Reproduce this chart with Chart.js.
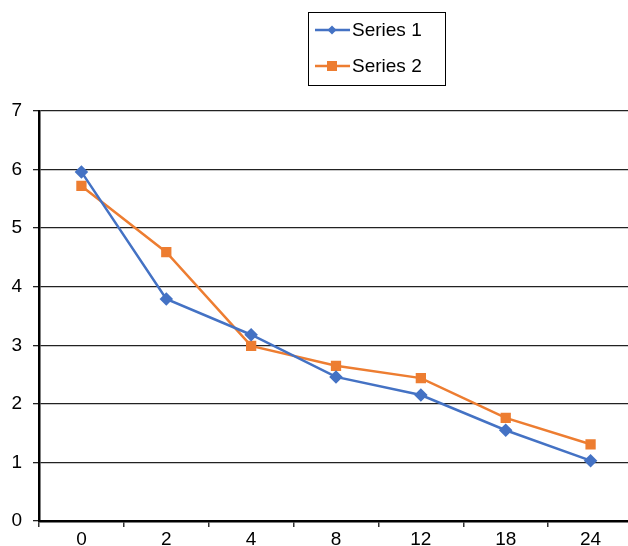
<!DOCTYPE html>
<html><head><meta charset="utf-8">
<script src="https://cdn.jsdelivr.net/npm/chart.js@4"></script>
<style>html,body{margin:0;padding:0;background:#fff;overflow:hidden;}#wrap{width:628px;height:546px;overflow:hidden;}</style>
</head><body><div id="wrap"><canvas id="c" width="633" height="546"></canvas></div>
<script>
const categories = ["0","2","4","8","12","18","24"];
const series1 = [5.96, 3.79, 3.18, 2.46, 2.15, 1.55, 1.03];
const series2 = [5.72, 4.59, 2.99, 2.65, 2.44, 1.76, 1.31];
const seriesNames = ["Series 1", "Series 2"];
const yTicks = [0,1,2,3,4,5,6,7];
const BLUE = "#4472C4", ORANGE = "#ED7D31";
const FONT = "Liberation Sans, Arial, sans-serif";

const legendPlugin = {
  id: "boxLegend",
  afterDraw(chart) {
    const ctx = chart.ctx;
    ctx.save();
    ctx.strokeStyle = "#000"; ctx.lineWidth = 1;
    ctx.strokeRect(308.5, 12.5, 137, 73);
    chart.data.datasets.forEach((ds, i) => {
      const y = 30 + i * 36;
      ctx.strokeStyle = ds.borderColor; ctx.lineWidth = 2.5;
      ctx.beginPath(); ctx.moveTo(315, y); ctx.lineTo(350, y); ctx.stroke();
      ctx.fillStyle = ds.borderColor;
      if (ds.pointStyle === "rect") { ctx.fillRect(327, y - 5, 10, 10); }
      else { ctx.beginPath(); ctx.moveTo(332, y-4.5); ctx.lineTo(336.5, y); ctx.lineTo(332, y+4.5); ctx.lineTo(327.5, y); ctx.closePath(); ctx.fill(); }
      ctx.fillStyle = "#000"; ctx.font = "19px " + FONT; ctx.textBaseline = "middle"; ctx.textAlign = "left";
      ctx.fillText(ds.label, 352, y + 1);
    });
    ctx.restore();
  }
};

new Chart(document.getElementById("c"), {
  type: "line",
  data: {
    labels: categories,
    datasets: [
      { label: seriesNames[0], data: series1, borderColor: BLUE, backgroundColor: BLUE, borderWidth: 2.5,
        pointStyle: "rectRot", pointRadius: 5, pointHoverRadius: 5, tension: 0, clip: false },
      { label: seriesNames[1], data: series2, borderColor: ORANGE, backgroundColor: ORANGE, borderWidth: 2.5,
        pointStyle: "rect", pointRadius: 5.5, pointHoverRadius: 5.5, tension: 0, clip: false }
    ]
  },
  options: {
    responsive: false, animation: false,
    layout: { autoPadding: false, padding: { top: 111, right: 0, left: 0, bottom: 0 } },
    plugins: { legend: { display: false }, tooltip: { enabled: false } },
    scales: {
      x: {
        type: "category", offset: true,
        grid: { offset: true, drawOnChartArea: false, drawTicks: true, tickLength: 6, color: "#333", lineWidth: 1.5 },
        border: { color: "#000", width: 2.5 },
        ticks: { color: "#000", font: { size: 19, family: FONT }, padding: 1, maxRotation: 0 },
        afterFit(s) { s.height = 25; s.paddingLeft = 0; s.paddingRight = 0; }
      },
      y: {
        min: 0, max: 7,
        afterBuildTicks(s) { s.ticks = yTicks.map(v => ({ value: v })); },
        grid: { color: "#222", lineWidth: 1.3, tickLength: 6, drawTicks: true },
        border: { color: "#000", width: 2.5 },
        ticks: { color: "#000", font: { size: 19, family: FONT }, padding: 11 },
        afterFit(s) { s.width = 39; }
      }
    }
  },
  plugins: [legendPlugin]
});
</script></body></html>
